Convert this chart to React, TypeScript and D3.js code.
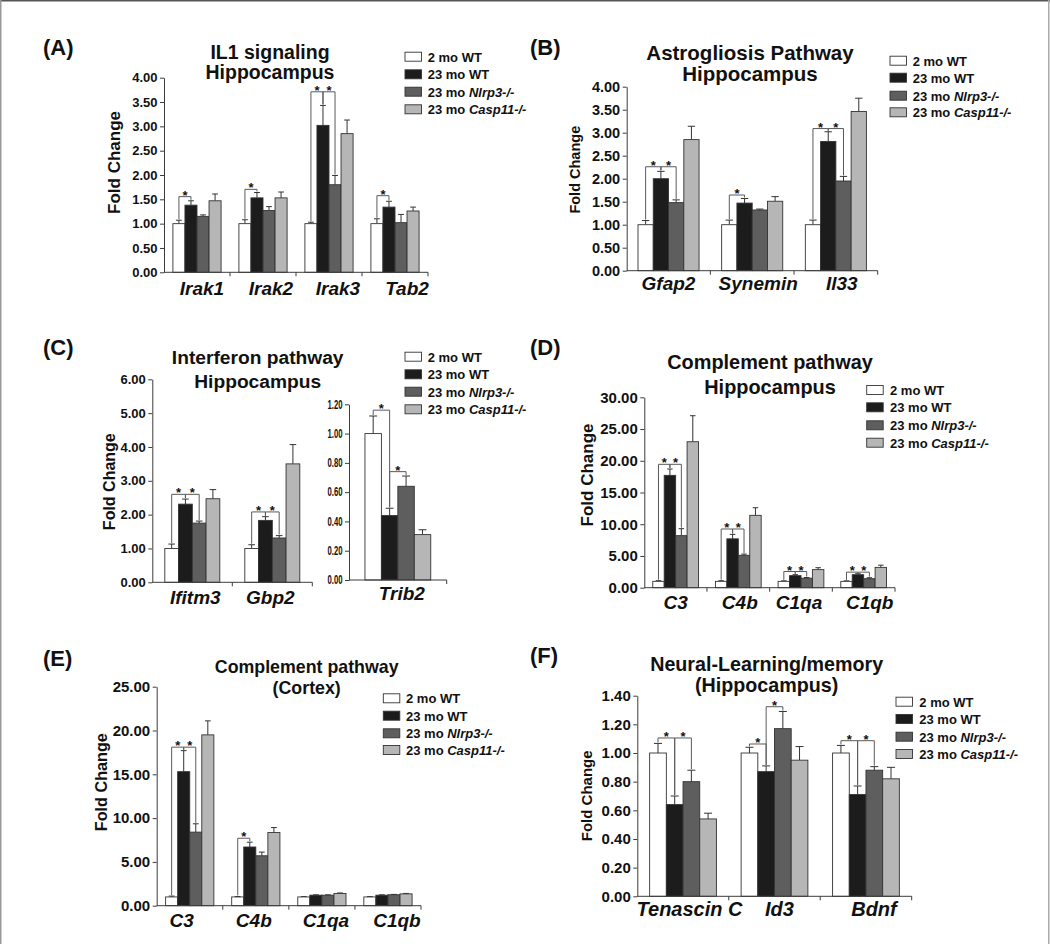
import { useEffect, useRef } from 'react';
import * as d3 from 'd3';

const FONT = '"Liberation Sans", Arial, sans-serif';
const AXIS = '#3c3c3c';
const OUTLINE = '#333333';

const groups = ['2 mo WT', '23 mo WT', '23 mo Nlrp3-/-', '23 mo Casp11-/-'];
const groupFill = ['#ffffff', '#1c1c1c', '#5e5e5e', '#b6b6b6'];

// sig rows: [gene index, from bar, to bar, bracket height]

// (A) IL1 signaling, hippocampus
const il1Genes = ['Irak1', 'Irak2', 'Irak3', 'Tab2'];
const il1Mean = [
  [1.0, 1.38, 1.15, 1.47],
  [1.0, 1.53, 1.27, 1.53],
  [1.0, 3.02, 1.8, 2.85],
  [1.0, 1.34, 1.02, 1.26],
];
const il1Sem = [
  [0.07, 0.09, 0.03, 0.14],
  [0.08, 0.11, 0.08, 0.12],
  [0.03, 0.41, 0.19, 0.28],
  [0.1, 0.12, 0.17, 0.08],
];
const il1Sig = [
  [0, 0, 1, 1.555],
  [1, 0, 1, 1.705],
  [2, 0, 1, 3.71],
  [2, 1, 2, 3.71],
  [3, 0, 1, 1.575],
];
const il1Ticks = [0, 0.5, 1, 1.5, 2, 2.5, 3, 3.5, 4];

// (B) astrogliosis, hippocampus
const astroGenes = ['Gfap2', 'Synemin', 'Il33'];
const astroMean = [
  [1.0, 2.0, 1.48, 2.85],
  [1.0, 1.47, 1.32, 1.51],
  [1.0, 2.81, 1.95, 3.46],
];
const astroSem = [
  [0.09, 0.16, 0.06, 0.29],
  [0.1, 0.1, 0.02, 0.1],
  [0.1, 0.21, 0.1, 0.29],
];
const astroSig = [
  [0, 0, 1, 2.26],
  [0, 1, 2, 2.26],
  [1, 0, 1, 1.645],
  [2, 0, 1, 3.09],
  [2, 1, 2, 3.09],
];
const astroTicks = [0, 0.5, 1, 1.5, 2, 2.5, 3, 3.5, 4];

// (C) interferon, hippocampus
const ifnGenes = ['Ifitm3', 'Gbp2'];
const ifnMean = [
  [1.0, 2.31, 1.75, 2.47],
  [1.0, 1.83, 1.31, 3.5],
];
const ifnSem = [
  [0.13, 0.15, 0.06, 0.27],
  [0.11, 0.11, 0.07, 0.57],
];
const ifnSig = [
  [0, 0, 1, 2.6],
  [0, 1, 2, 2.6],
  [1, 0, 1, 2.08],
  [1, 1, 2, 2.08],
];
const ifnTicks = [0, 1, 2, 3, 4, 5, 6];

const tribGenes = ['Trib2'];
const tribMean = [[1.0, 0.44, 0.64, 0.31]];
const tribSem = [[0.12, 0.05, 0.07, 0.033]];
const tribSig = [
  [0, 0, 1, 1.16],
  [0, 1, 2, 0.74],
];
const tribTicks = [0, 0.2, 0.4, 0.6, 0.8, 1.0, 1.2];

// (D) complement, hippocampus
const compGenes = ['C3', 'C4b', 'C1qa', 'C1qb'];
const compHipMean = [
  [1.0, 17.7, 8.2, 23.0],
  [1.0, 7.7, 5.1, 11.4],
  [1.0, 1.9, 1.5, 2.85],
  [1.0, 2.05, 1.42, 3.2],
];
const compHipSem = [
  [0.1, 1.0, 1.1, 4.1],
  [0.1, 0.7, 0.2, 1.2],
  [0.08, 0.15, 0.1, 0.3],
  [0.08, 0.15, 0.15, 0.35],
];
const compHipSig = [
  [0, 0, 1, 19.44],
  [0, 1, 2, 19.44],
  [1, 0, 1, 9.25],
  [1, 1, 2, 9.25],
  [2, 0, 1, 2.55],
  [2, 1, 2, 2.55],
  [3, 0, 1, 2.45],
  [3, 1, 2, 2.45],
];
const compHipTicks = [0, 5, 10, 15, 20, 25, 30];

// (E) complement, cortex
const compCtxMean = [
  [1.0, 15.3, 8.4, 19.5],
  [1.0, 6.7, 5.7, 8.35],
  [1.0, 1.2, 1.2, 1.4],
  [1.0, 1.2, 1.25, 1.35],
];
const compCtxSem = [
  [0.1, 2.4, 0.95, 1.6],
  [0.05, 0.55, 0.42, 0.57],
  [0.04, 0.04, 0.04, 0.05],
  [0.04, 0.04, 0.04, 0.05],
];
const compCtxSig = [
  [0, 0, 1, 18.1],
  [0, 1, 2, 18.1],
  [1, 0, 1, 7.7],
];
const compCtxTicks = [0, 5, 10, 15, 20, 25];

// (F) neural learning / memory, hippocampus
const neuralGenes = ['Tenascin C', 'Id3', 'Bdnf'];
const neuralMean = [
  [1.0, 0.64, 0.8, 0.54],
  [1.0, 0.87, 1.17, 0.95],
  [1.0, 0.71, 0.88, 0.82],
];
const neuralSem = [
  [0.067, 0.06, 0.08, 0.04],
  [0.04, 0.04, 0.12, 0.095],
  [0.053, 0.06, 0.025, 0.08],
];
const neuralSig = [
  [0, 0, 1, 1.105],
  [0, 1, 2, 1.105],
  [1, 0, 1, 1.063],
  [1, 1, 2, 1.323],
  [2, 0, 1, 1.086],
  [2, 1, 2, 1.086],
];
const neuralTicks = [0, 0.2, 0.4, 0.6, 0.8, 1.0, 1.2, 1.4];

type ChartData = {
  genes: string[];
  mean: number[][];
  sem: number[][];
  sig: number[][];
  ticks: number[];
};

type ChartLayout = {
  x0: number;
  x1: number;
  yTop: number;
  yBottom: number;
  pad: number;
  tickFs: number;
  narrow?: boolean;
  labelY: number;
  labelFs: number;
  labelDx: number[];
  yTitle?: { x: number; y: number; fs: number };
};

type PanelDeco = {
  letter: string;
  lx: number;
  ly: number;
  title: string[];
  tx: number;
  ty: number[];
  tfs: number;
  legendX: number;
  legendRows: number[];
  legendTextX: number;
};

function YAxis({ scale, x, ticks, fs, narrow }: { scale: d3.ScaleLinear<number, number>; x: number; ticks: number[]; fs: number; narrow?: boolean }) {
  const ref = useRef<SVGGElement>(null);
  useEffect(() => {
    const g = d3.select(ref.current!);
    g.selectAll('*').remove();
    g.call(
      d3
        .axisLeft(scale)
        .tickValues(ticks)
        .tickFormat(d3.format('.2f'))
        .tickSize(4)
        .tickSizeOuter(0)
        .tickPadding(2.5),
    );
    g.attr('font-family', null).attr('font-size', null);
    g.selectAll('path, line').attr('stroke', AXIS).attr('stroke-width', 1);
    const t = g
      .selectAll('text')
      .attr('fill', '#111')
      .attr('font-family', FONT)
      .attr('font-size', fs)
      .attr('font-weight', 'bold');
    if (narrow) t.attr('textLength', 15).attr('lengthAdjust', 'spacingAndGlyphs');
  }, [scale, ticks, fs, narrow]);
  return <g ref={ref} transform={`translate(${x},0)`} />;
}

function BarChart({ data, lay }: { data: ChartData; lay: ChartLayout }) {
  const max = data.ticks[data.ticks.length - 1];
  const y = d3.scaleLinear().domain([0, max]).range([lay.yBottom, lay.yTop]);
  const x = d3.scaleBand().domain(data.genes).range([lay.x0, lay.x1]).paddingInner(0).paddingOuter(0);
  const inner = d3.scaleBand().domain(groups).range([0, x.bandwidth()]).paddingInner(0).paddingOuter(lay.pad);
  const bw = inner.bandwidth();
  const cx = (gi: number, bi: number) => x(data.genes[gi])! + inner(groups[bi])! + bw / 2;
  const errTop = (gi: number, bi: number) => y(data.mean[gi][bi] + data.sem[gi][bi]);

  return (
    <g>
      {data.genes.map((gene, gi) => (
        <g key={gene}>
          {groups.map((grp, bi) => {
            const v = data.mean[gi][bi];
            const bx = x(gene)! + inner(grp)!;
            const c = bx + bw / 2;
            const cap = bw * 0.24;
            return (
              <g key={grp}>
                <line x1={c} x2={c} y1={y(v)} y2={errTop(gi, bi)} stroke={OUTLINE} strokeWidth={1} />
                <line x1={c - cap} x2={c + cap} y1={errTop(gi, bi)} y2={errTop(gi, bi)} stroke={OUTLINE} strokeWidth={1} />
                <rect x={bx} y={y(v)} width={bw} height={y(0) - y(v)} fill={groupFill[bi]} stroke={OUTLINE} strokeWidth={0.9} />
              </g>
            );
          })}
          <text
            x={x(gene)! + x.bandwidth() / 2 + lay.labelDx[gi]}
            y={lay.labelY}
            textAnchor="middle"
            fontFamily={FONT}
            fontSize={lay.labelFs}
            fontWeight="bold"
            fontStyle="italic"
            fill="#111"
          >
            {gene}
          </text>
        </g>
      ))}
      {data.sig.map(([gi, a, b, h], k) => {
        const xa = cx(gi, a);
        const xb = cx(gi, b);
        const yl = y(h);
        return (
          <g key={k}>
            <path
              d={`M${xa},${errTop(gi, a) - 1}V${yl}H${xb}V${errTop(gi, b) - 1}`}
              fill="none"
              stroke="#5a5a5a"
              strokeWidth={1}
            />
            <text
              x={(xa + xb) / 2}
              y={yl + 3}
              textAnchor="middle"
              fontFamily={FONT}
              fontSize={13}
              fontWeight="bold"
              fill="#111"
            >
              *
            </text>
          </g>
        );
      })}
      <line x1={lay.x0} x2={lay.x1} y1={lay.yBottom} y2={lay.yBottom} stroke={AXIS} strokeWidth={1} />
      {data.genes.map((gene) => {
        const tx = x(gene)! + x.bandwidth();
        return <line key={gene} x1={tx} x2={tx} y1={lay.yBottom} y2={lay.yBottom + 4} stroke={AXIS} strokeWidth={1} />;
      })}
      <YAxis scale={y} x={lay.x0} ticks={data.ticks} fs={lay.tickFs} narrow={lay.narrow} />
      {lay.yTitle && (
        <text
          transform={`translate(${lay.yTitle.x},${lay.yTitle.y}) rotate(-90)`}
          textAnchor="middle"
          fontFamily={FONT}
          fontSize={lay.yTitle.fs}
          fontWeight="bold"
          fill="#111"
        >
          Fold Change
        </text>
      )}
    </g>
  );
}

function Decor({ d }: { d: PanelDeco }) {
  return (
    <g fontFamily={FONT} fill="#111">
      <text x={d.lx} y={d.ly} fontSize={22} fontWeight="bold">
        {d.letter}
      </text>
      {d.title.map((t, i) => (
        <text key={t} x={d.tx} y={d.ty[i]} fontSize={d.tfs} fontWeight="bold" textAnchor="middle">
          {t}
        </text>
      ))}
      {groups.map((g, i) => {
        const cy = d.legendRows[i];
        const m = g.match(/^(\d+ mo )(.*)$/)!;
        const italic = i >= 2;
        return (
          <g key={g}>
            <rect x={d.legendX} y={cy - 4.5} width={16.5} height={9} fill={groupFill[i]} stroke={OUTLINE} strokeWidth={0.9} />
            <text x={d.legendTextX} y={cy + 5} fontSize={13} fontWeight="bold">
              {m[1]}
              <tspan fontStyle={italic ? 'italic' : 'normal'}>{m[2]}</tspan>
            </text>
          </g>
        );
      })}
    </g>
  );
}

const charts: { data: ChartData; lay: ChartLayout }[] = [
  {
    data: { genes: il1Genes, mean: il1Mean, sem: il1Sem, sig: il1Sig, ticks: il1Ticks },
    lay: { x0: 164, x1: 428, yTop: 77.7, yBottom: 272.3, pad: 0.74, tickFs: 13, labelY: 295, labelFs: 19, labelDx: [5, 8, 9, 12], yTitle: { x: 120, y: 162.5, fs: 17 } },
  },
  {
    data: { genes: astroGenes, mean: astroMean, sem: astroSem, sig: astroSig, ticks: astroTicks },
    lay: { x0: 626.7, x1: 877.7, yTop: 86.7, yBottom: 270.7, pad: 0.74, tickFs: 14.5, labelY: 289.5, labelFs: 19, labelDx: [0, 6, 6], yTitle: { x: 580, y: 169.7, fs: 14.5 } },
  },
  {
    data: { genes: ifnGenes, mean: ifnMean, sem: ifnSem, sig: ifnSig, ticks: ifnTicks },
    lay: { x0: 152.3, x1: 312.3, yTop: 379.3, yBottom: 582.3, pad: 0.91, tickFs: 13, labelY: 604, labelFs: 19, labelDx: [3, -2], yTitle: { x: 115, y: 481.7, fs: 16 } },
  },
  {
    data: { genes: tribGenes, mean: tribMean, sem: tribSem, sig: tribSig, ticks: tribTicks },
    lay: { x0: 349, x1: 446.7, yTop: 404.3, yBottom: 580, pad: 0.97, tickFs: 12, narrow: true, labelY: 600, labelFs: 19, labelDx: [4] },
  },
  {
    data: { genes: compGenes, mean: compHipMean, sem: compHipSem, sig: compHipSig, ticks: compHipTicks },
    lay: { x0: 644.3, x1: 895, yTop: 397.3, yBottom: 587.7, pad: 0.74, tickFs: 15, labelY: 609.3, labelFs: 19, labelDx: [0, 1.5, -2, 6], yTitle: { x: 592.7, y: 475, fs: 17 } },
  },
  {
    data: { genes: compGenes, mean: compCtxMean, sem: compCtxSem, sig: compCtxSig, ticks: compCtxTicks },
    lay: { x0: 156.7, x1: 421, yTop: 686.7, yBottom: 905.7, pad: 0.74, tickFs: 15, labelY: 927.3, labelFs: 19, labelDx: [-8, -2, 4, 9], yTitle: { x: 106.7, y: 782.2, fs: 16.2 } },
  },
  {
    data: { genes: neuralGenes, mean: neuralMean, sem: neuralSem, sig: neuralSig, ticks: neuralTicks },
    lay: { x0: 637.3, x1: 911.7, yTop: 695.7, yBottom: 896.3, pad: 0.74, tickFs: 15, labelY: 916, labelFs: 20, labelDx: [6.5, 5, 8], yTitle: { x: 592, y: 795.8, fs: 15 } },
  },
];

const decos: PanelDeco[] = [
  { letter: '(A)', lx: 43, ly: 55, title: ['IL1 signaling', 'Hippocampus'], tx: 270, ty: [58.5, 79], tfs: 19.5, legendX: 405, legendRows: [56.7, 74.3, 91.7, 109.3], legendTextX: 427.7 },
  { letter: '(B)', lx: 530, ly: 55, title: ['Astrogliosis Pathway', 'Hippocampus'], tx: 750, ty: [59.5, 80.5], tfs: 20.5, legendX: 890, legendRows: [60.7, 77.7, 95.7, 112.3], legendTextX: 912.7 },
  { letter: '(C)', lx: 43, ly: 355, title: ['Interferon pathway', 'Hippocampus'], tx: 257.7, ty: [363.5, 387.8], tfs: 19.2, legendX: 405, legendRows: [356.7, 374.3, 391.7, 409.3], legendTextX: 427.7 },
  { letter: '(D)', lx: 530, ly: 355, title: ['Complement pathway', 'Hippocampus'], tx: 770, ty: [369.2, 393.5], tfs: 19.9, legendX: 866.7, legendRows: [390, 407.3, 425.3, 442.7], legendTextX: 890 },
  { letter: '(E)', lx: 43, ly: 666, title: ['Complement pathway', '(Cortex)'], tx: 306.7, ty: [673.3, 694], tfs: 17.8, legendX: 383.3, legendRows: [698.3, 715.7, 733.3, 750], legendTextX: 406 },
  { letter: '(F)', lx: 530, ly: 663.3, title: ['Neural-Learning/memory', '(Hippocampus)'], tx: 766.7, ty: [670.8, 691.7], tfs: 19.7, legendX: 896, legendRows: [701.7, 719, 736.7, 754], legendTextX: 919.3 },
];

export default function App() {
  return (
    <div style={{ position: 'absolute', left: 0, top: 0, width: 1050, height: 944, background: '#fff' }}>
      <svg width={1050} height={944} viewBox="0 0 1050 944" style={{ display: 'block' }}>
        <rect x={0} y={0} width={1050} height={944} fill="#fff" />
        <line x1={0} x2={1050} y1={0.75} y2={0.75} stroke="#555" strokeWidth={1.5} />
        <line x1={0.75} x2={0.75} y1={0} y2={944} stroke="#999" strokeWidth={1.5} />
        <line x1={1048.75} x2={1048.75} y1={0} y2={944} stroke="#aaa" strokeWidth={1.5} />
        {charts.map((c, i) => (
          <BarChart key={i} data={c.data} lay={c.lay} />
        ))}
        {decos.map((d) => (
          <Decor key={d.letter} d={d} />
        ))}
      </svg>
    </div>
  );
}
